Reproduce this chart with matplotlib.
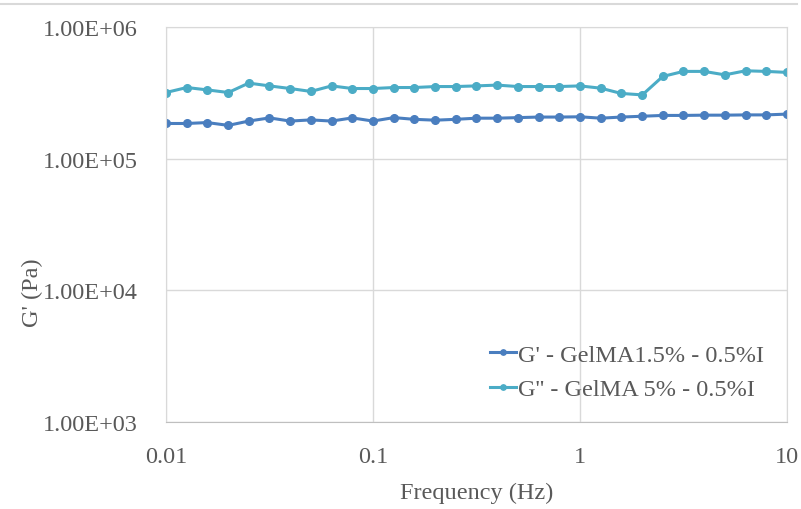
import matplotlib
matplotlib.use("Agg")
import matplotlib.pyplot as plt
from matplotlib.lines import Line2D
from matplotlib.ticker import FixedLocator, NullLocator

# frequency sweep, 10 points per decade from 0.01 to 10 Hz
freq = [0.01, 0.0126, 0.0158, 0.02, 0.0251, 0.0316, 0.0398, 0.0501, 0.0631, 0.0794,
        0.1, 0.126, 0.158, 0.2, 0.251, 0.316, 0.398, 0.501, 0.631, 0.794,
        1.0, 1.26, 1.58, 2.0, 2.51, 3.16, 3.98, 5.01, 6.31, 7.94, 10.0]

g1 = [1.85e5, 1.85e5, 1.88e5, 1.79e5, 1.93e5, 2.04e5, 1.93e5, 1.97e5, 1.93e5, 2.04e5,
      1.93e5, 2.05e5, 1.99e5, 1.96e5, 1.99e5, 2.03e5, 2.03e5, 2.05e5, 2.07e5, 2.07e5,
      2.08e5, 2.03e5, 2.07e5, 2.10e5, 2.13e5, 2.13e5, 2.14e5, 2.14e5, 2.15e5, 2.15e5, 2.18e5]

g2 = [3.18e5, 3.47e5, 3.33e5, 3.18e5, 3.75e5, 3.57e5, 3.41e5, 3.24e5, 3.57e5, 3.41e5,
      3.41e5, 3.47e5, 3.47e5, 3.53e5, 3.53e5, 3.57e5, 3.62e5, 3.53e5, 3.53e5, 3.53e5,
      3.57e5, 3.43e5, 3.13e5, 3.05e5, 4.21e5, 4.60e5, 4.60e5, 4.33e5, 4.65e5, 4.60e5, 4.52e5]

labels = ["G' - GelMA1.5% - 0.5%I", "G'' - GelMA 5% - 0.5%I"]
x_ticks = [0.01, 0.1, 1, 10]
x_ticklabels = ["0.01", "0.1", "1", "10"]
y_ticks = [1e3, 1e4, 1e5, 1e6]
y_ticklabels = ["1.00E+03", "1.00E+04", "1.00E+05", "1.00E+06"]

plt.rcParams["font.family"] = ["Liberation Serif", "DejaVu Serif"]
text_color = "#595959"
grid_color = "#d9d9d9"

fig = plt.figure(figsize=(8.01, 5.10), dpi=100)
ax = fig.add_axes([166 / 801, 1 - 423 / 510, 621 / 801, 395 / 510])

ax.plot(freq, g1, color="#4a7ebf", lw=2.2, marker="o", ms=5.5, label=labels[0])
ax.plot(freq, g2, color="#4bacc6", lw=2.2, marker="o", ms=5.5, label=labels[1])

ax.set_xscale("log")
ax.set_yscale("log")
ax.set_xlim(0.01, 10)
ax.set_ylim(1e3, 1e6)
ax.xaxis.set_major_locator(FixedLocator(x_ticks))
ax.yaxis.set_major_locator(FixedLocator(y_ticks))
ax.xaxis.set_minor_locator(NullLocator())
ax.yaxis.set_minor_locator(NullLocator())
ax.set_xticklabels(x_ticklabels)
ax.set_yticklabels(y_ticklabels)
ax.tick_params(axis="both", length=0, labelsize=17.5, labelcolor=text_color)
ax.tick_params(axis="x", pad=17)
ax.tick_params(axis="y", pad=20)

ax.grid(True, color=grid_color, lw=1.0)
for side in ["top", "right", "left"]:
    ax.spines[side].set_color(grid_color)
ax.spines["bottom"].set_color("#bfbfbf")

ax.set_xlabel("Frequency (Hz)", fontsize=17.5, color=text_color, labelpad=11)
ax.set_ylabel("G' (Pa)", fontsize=17.5, color=text_color)
ax.yaxis.set_label_coords(-0.198, 0.33)

leg = ax.legend(loc="lower left", bbox_to_anchor=(0.486, 0.0), frameon=False,
                fontsize=17.5, handlelength=1.1, handletextpad=0.05, labelspacing=0.5,
                markerscale=0.7)
for t in leg.get_texts():
    t.set_color(text_color)

# outer chart frame line at the top
fig.add_artist(Line2D([0, 0.995], [1 - 5 / 510, 1 - 5 / 510], color=grid_color, lw=1.5,
                      transform=fig.transFigure))

fig.savefig("out.png", dpi=100)
